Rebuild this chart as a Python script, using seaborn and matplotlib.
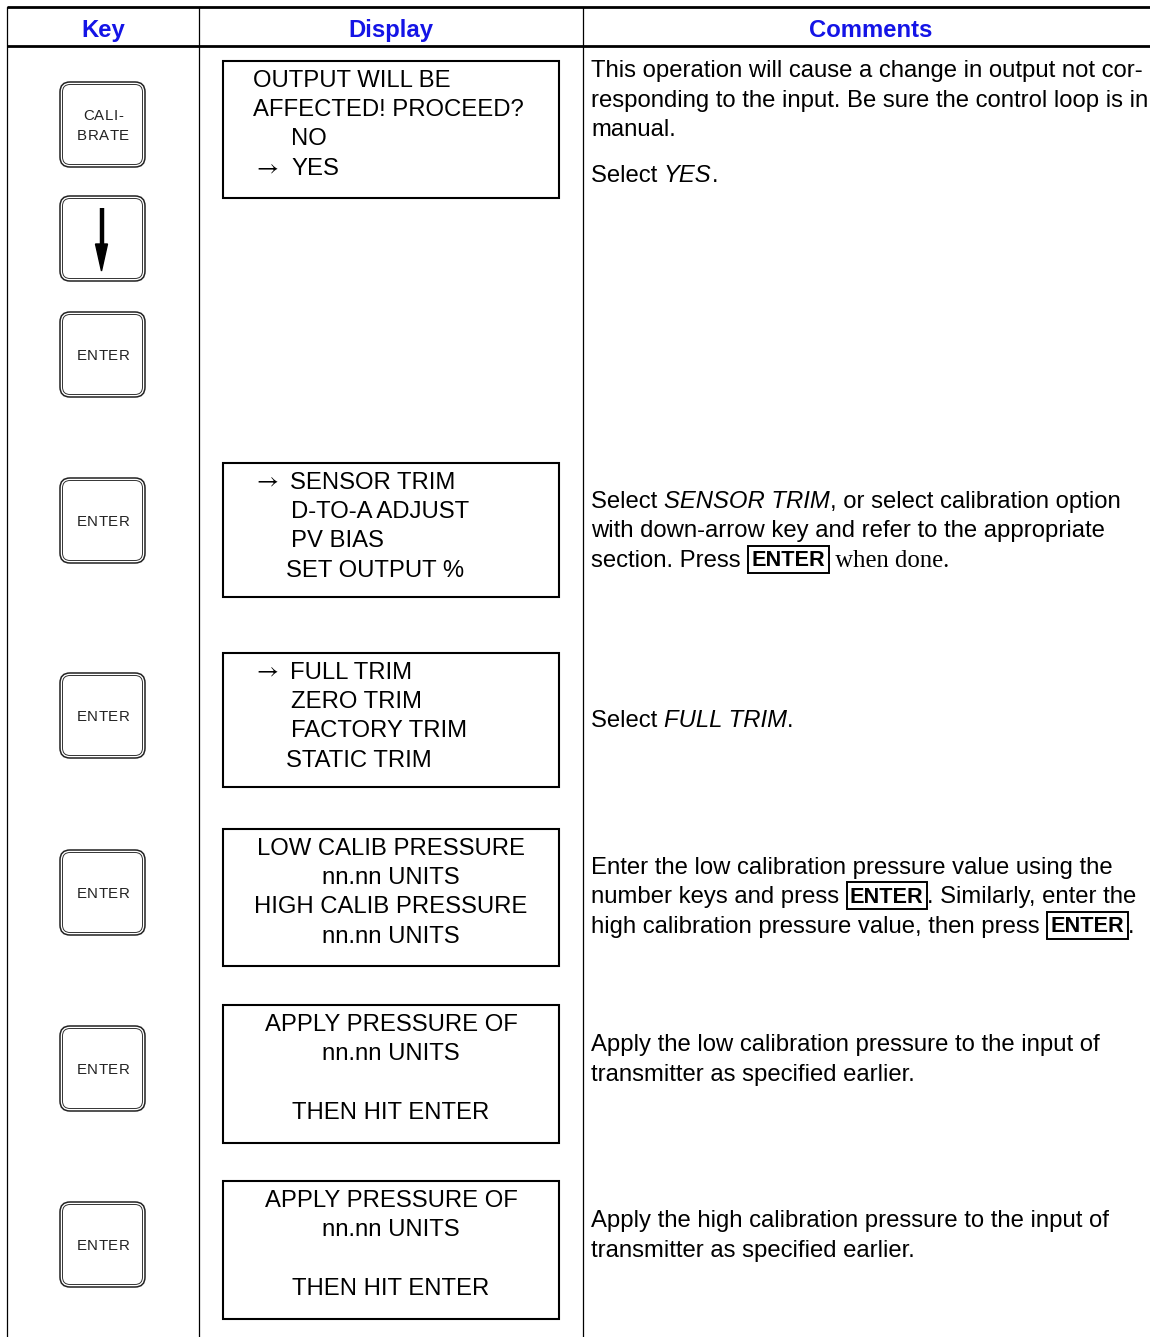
import matplotlib
matplotlib.use("Agg")
import matplotlib.pyplot as plt
from matplotlib.patches import FancyBboxPatch, Rectangle, Polygon
import seaborn as sns

sns.set_theme(style="white")
plt.rcParams['font.family'] = ['Liberation Sans', 'DejaVu Sans']

# ---------------- content ----------------
headers = ["Key", "Display", "Comments"]

keys = ["CALI-\nBRATE", "DOWN", "ENTER", "ENTER", "ENTER", "ENTER", "ENTER", "ENTER"]

screens = [
    ["OUTPUT WILL BE", "AFFECTED! PROCEED?", "NO", "YES"],
    ["SENSOR TRIM", "D-TO-A ADJUST", "PV BIAS", "SET OUTPUT %"],
    ["FULL TRIM", "ZERO TRIM", "FACTORY TRIM", "STATIC TRIM"],
    ["LOW CALIB PRESSURE", "nn.nn UNITS", "HIGH CALIB PRESSURE", "nn.nn UNITS"],
    ["APPLY PRESSURE OF", "nn.nn UNITS", "", "THEN HIT ENTER"],
    ["APPLY PRESSURE OF", "nn.nn UNITS", "", "THEN HIT ENTER"],
]
screen_cursor = [3, 0, 0, None, None, None]   # line carrying the "→" marker

# comment paragraphs: list of lines, each line a list of (text, style)
comments = [
    [
        [[("This operation will cause a change in output not cor-", "n")],
         [("responding to the input. Be sure the control loop is in", "n")],
         [("manual.", "n")]],
        [[("Select ", "n"), ("YES", "i"), (".", "n")]],
    ],
    [
        [[("Select ", "n"), ("SENSOR TRIM", "i"), (", or select calibration option", "n")],
         [("with down-arrow key and refer to the appropriate", "n")],
         [("section. Press ", "n"), ("ENTER", "box"), (" when done.", "serif")]],
    ],
    [
        [[("Select ", "n"), ("FULL TRIM", "i"), (".", "n")]],
    ],
    [
        [[("Enter the low calibration pressure value using the", "n")],
         [("number keys and press ", "n"), ("ENTER", "box"), (". Similarly, enter the", "n")],
         [("high calibration pressure value, then press ", "n"), ("ENTER", "box"), (".", "n")]],
    ],
    [
        [[("Apply the low calibration pressure to the input of", "n")],
         [("transmitter as specified earlier.", "n")]],
    ],
    [
        [[("Apply the high calibration pressure to the input of", "n")],
         [("transmitter as specified earlier.", "n")]],
    ],
]

# ---------------- layout ----------------
W, H = 1150, 1337
col_x = [7, 199, 583]
header_top, header_bot = 7, 46
header_cx = [103, 391, 871]

key_x0, key_w, key_h = 60, 85, 85
key_tops = [82, 196, 312, 478, 673, 850, 1026, 1202]
key_fs = 10.8
key_track = 0.5
key_line_gap = 19

box_x0, box_x1 = 223, 559
box_tops = [61, 463, 653, 829, 1005, 1181]
box_bots = [198, 597, 787, 966, 1143, 1319]
line_gap = 29.4
first_line = 17
screen_align = ["left", "left", "left", "center", "center", "center"]
screen_line_x = [[253, 253, 291, 291], [290, 291, 291, 286],
                 [290, 291, 291, 286], None, None, None]
arrow_x = 253

comment_x = 591
comment_first = [68.5, 499.5, 718.5, 865.5, 1042.5, 1218.5]
para_extra = 17

FS = 17.2
BASE = 8.6
BLUE = "#1414e6"

fig = plt.figure(figsize=(W / 100, H / 100), dpi=100)
ax = fig.add_axes([0, 0, 1, 1])
ax.set_xlim(0, W)
ax.set_ylim(H, 0)
ax.axis("off")
renderer = fig.canvas.get_renderer()


def seg_width(s, p):
    t = ax.text(0, 0, "|" + s + "|", **p)
    w1 = t.get_window_extent(renderer).width
    t.set_text("||")
    w2 = t.get_window_extent(renderer).width
    t.remove()
    return w1 - w2


# table rules
ax.plot([col_x[0], W], [header_top, header_top], color="black", lw=2.0, solid_capstyle="butt")
ax.plot([col_x[0], W], [header_bot, header_bot], color="black", lw=2.0, solid_capstyle="butt")
for cx in col_x:
    ax.plot([cx, cx], [header_top, H], color="black", lw=0.9)

for h, cx in zip(headers, header_cx):
    ax.text(cx, (header_top + header_bot) / 2 + 1.5 + BASE, h, ha="center", va="baseline",
            fontsize=FS, fontweight="bold", color=BLUE)

# keys
kp = dict(fontsize=key_fs, color="#222222", va="baseline", ha="left")
for k, top in zip(keys, key_tops):
    r = 10
    outer = FancyBboxPatch((key_x0 + r, top + r), key_w - 2 * r, key_h - 2 * r,
                           boxstyle=f"round,pad={r}", fc="white", ec="#222222", lw=1.1)
    ax.add_patch(outer)
    r2 = 7.5
    inner = FancyBboxPatch((key_x0 + 2.5 + r2, top + 2.5 + r2), key_w - 5 - 2 * r2, key_h - 5 - 2 * r2,
                           boxstyle=f"round,pad={r2}", fc="none", ec="#333333", lw=0.7)
    ax.add_patch(inner)
    cx = key_x0 + key_w / 2 + 0.5
    cy = top + key_h / 2
    if k == "DOWN":
        ax.plot([cx - 1.5, cx - 1.5], [top + 12, top + 52], color="black", lw=3.2, solid_capstyle="butt")
        ax.add_patch(Polygon([[cx - 7.5, top + 48], [cx + 4.5, top + 48], [cx - 1.5, top + 75]],
                             closed=True, fc="black", ec="black"))
    else:
        rows = k.split("\n")
        n = len(rows)
        for ri, row in enumerate(rows):
            widths = [seg_width(c, kp) for c in row]
            total = sum(widths) + key_track * (len(row) - 1)
            x = cx - total / 2
            yb = cy + (ri - (n - 1) / 2) * key_line_gap + 5.5
            for c, w in zip(row, widths):
                ax.text(x, yb, c, **kp)
                x += w + key_track

# display screens
for i, lines in enumerate(screens):
    ax.add_patch(Rectangle((box_x0, box_tops[i]), box_x1 - box_x0, box_bots[i] - box_tops[i],
                           fc="white", ec="black", lw=1.5))
    for j, t in enumerate(lines):
        y = box_tops[i] + first_line + j * line_gap + BASE
        if screen_align[i] == "center":
            ax.text((box_x0 + box_x1) / 2, y, t, ha="center", va="baseline", fontsize=FS, color="black")
        else:
            ax.text(screen_line_x[i][j], y, t, ha="left", va="baseline", fontsize=FS, color="black")
        if screen_cursor[i] == j:
            ax.text(arrow_x, y - BASE + 1, r"$\rightarrow$", ha="left", va="center", fontsize=FS,
                    color="black", math_fontfamily="stix")


def props(style):
    p = dict(fontsize=FS, color="black", va="baseline", ha="left")
    if style == "i":
        p["style"] = "italic"
    elif style == "box":
        p["fontweight"] = "bold"
        p["fontsize"] = 15.6
    elif style == "serif":
        p["fontfamily"] = ["Liberation Serif"]
        p["fontsize"] = FS + 0.6
    return p


for i, paras in enumerate(comments):
    y = comment_first[i]
    for pi, para in enumerate(paras):
        if pi > 0:
            y += para_extra
        for line in para:
            x = comment_x
            yb = y + BASE
            for s, st in line:
                p = props(st)
                if st == "box":
                    x += 4
                    w = seg_width(s, p)
                    ax.text(x, yb - 0.5, s, **p)
                    ax.add_patch(Rectangle((x - 3, y - 12.5), w + 7, 27,
                                           fc="none", ec="black", lw=1.4))
                    x += w + 4
                else:
                    w = seg_width(s, p)
                    ax.text(x, yb, s, **p)
                    x += w
            y += line_gap

fig.savefig("out.png", dpi=100, facecolor="white")
